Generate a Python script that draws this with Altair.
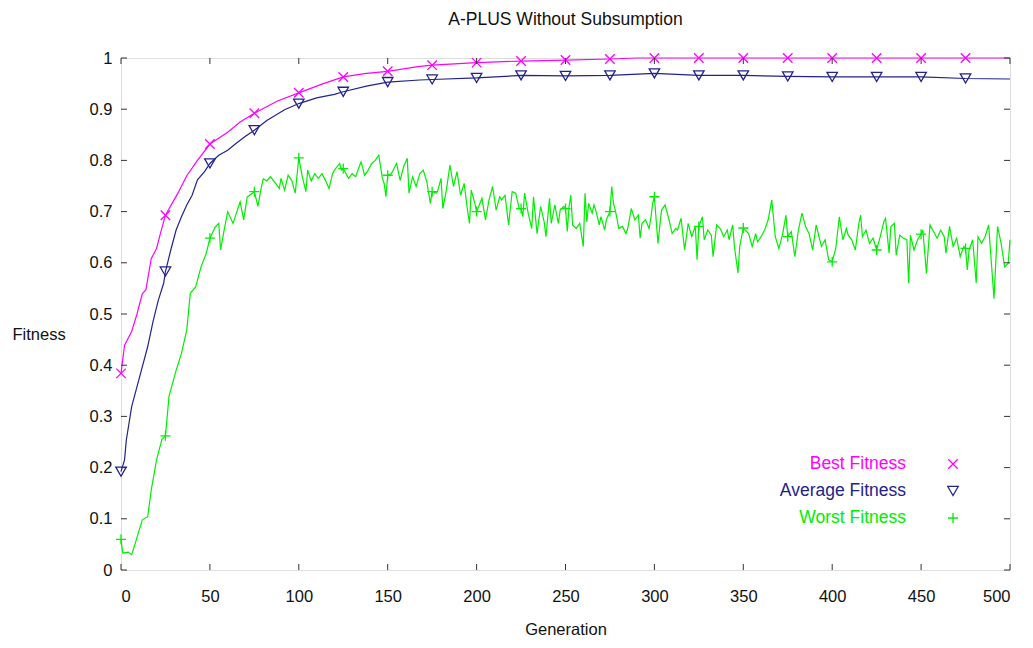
import altair as alt
import pandas as pd

# ---------------- data ----------------
best_gen = [0, 2, 6, 9, 12, 14, 17, 20, 22, 25, 32, 37, 43, 50, 60, 67, 75, 88, 100, 113, 125,
            138, 150, 167, 175, 200, 225, 250, 275, 290, 300, 325, 350, 375, 400, 425, 450, 475, 500]
best_val = [0.384, 0.439, 0.466, 0.500, 0.540, 0.547, 0.608, 0.628, 0.655, 0.693, 0.736, 0.770,
            0.800, 0.832, 0.855, 0.875, 0.892, 0.916, 0.932, 0.949, 0.963, 0.970, 0.974, 0.983,
            0.986, 0.991, 0.994, 0.996, 0.998, 1.0, 1.0, 1.0, 1.0, 1.0, 1.0, 1.0, 1.0, 1.0, 1.0]

avg_gen = [0, 2, 3, 6, 9, 11, 15, 18, 21, 24, 25, 28, 31, 34, 37, 40, 43, 47, 50, 55, 60, 65, 70,
           75, 82, 92, 100, 110, 120, 125, 138, 150, 168, 175, 200, 225, 250, 275, 300, 325, 350,
           375, 400, 425, 450, 475, 500]
avg_val = [0.192, 0.215, 0.254, 0.319, 0.358, 0.384, 0.436, 0.485, 0.527, 0.560, 0.583, 0.625,
           0.664, 0.690, 0.713, 0.732, 0.762, 0.778, 0.794, 0.810, 0.820, 0.834, 0.847, 0.859,
           0.878, 0.899, 0.911, 0.922, 0.929, 0.934, 0.945, 0.953, 0.957, 0.958, 0.961, 0.966,
           0.965, 0.966, 0.970, 0.966, 0.966, 0.964, 0.963, 0.963, 0.963, 0.960, 0.959]

worst_gen = [0, 1, 4, 6, 8, 12, 15, 17, 20, 23, 25, 27, 31, 34, 37, 39, 42, 45, 48, 50, 53, 55, 56,
             58, 60, 63, 67, 69, 71, 74, 75, 77, 79, 80, 82, 84, 87, 89, 90, 92, 94, 96, 98, 100,
             102, 104, 105, 107, 109, 111, 113, 115, 117, 119, 120, 123, 124, 125, 128, 130, 132,
             134, 135, 137, 139, 141, 143, 145, 147, 148, 149, 150, 152, 155, 157, 159, 161, 162,
             164, 166, 168, 170, 172, 174, 175, 177, 178, 180, 181, 183, 185, 187, 189, 191, 193,
             195, 196, 197, 199, 200, 203, 205, 207, 209, 211, 213, 214, 216, 218, 220, 222, 224,
             225, 226, 227, 229, 231, 232, 234, 236, 238, 239, 241, 242, 244, 246, 247, 249, 250,
             251, 252, 253, 254, 256, 258, 260, 261, 262, 263, 265, 266, 267, 269, 270, 272, 273,
             275, 276, 277, 278, 280, 282, 284, 285, 287, 289, 291, 292, 293, 295, 297, 298, 299,
             300, 302, 304, 306, 308, 310, 312, 313, 315, 317, 319, 321, 323, 324, 325, 327, 328,
             330, 332, 333, 335, 337, 339, 341, 342, 344, 345, 347, 348, 350, 351, 353, 355, 357,
             358, 360, 362, 364, 366, 368, 370, 372, 374, 375, 377, 379, 381, 383, 385, 387, 389,
             391, 393, 394, 396, 398, 400, 402, 404, 406, 408, 409, 411, 413, 415, 416, 417, 419,
             421, 423, 425, 427, 429, 430, 432, 433, 435, 436, 438, 440, 442, 443, 444, 446, 448,
             450, 451, 453, 455, 457, 459, 461, 463, 464, 466, 468, 470, 472, 474, 475, 476, 477,
             479, 481, 482, 484, 486, 488, 489, 491, 493, 495, 497, 499, 500]
worst_val = [0.060, 0.033, 0.035, 0.030, 0.052, 0.098, 0.104, 0.156, 0.215, 0.255, 0.262, 0.339,
             0.390, 0.423, 0.469, 0.541, 0.553, 0.592, 0.619, 0.648, 0.670, 0.677, 0.625, 0.664,
             0.700, 0.677, 0.719, 0.684, 0.729, 0.736, 0.739, 0.710, 0.749, 0.764, 0.760, 0.768,
             0.755, 0.745, 0.765, 0.742, 0.771, 0.761, 0.736, 0.805, 0.768, 0.739, 0.781, 0.760,
             0.774, 0.765, 0.774, 0.761, 0.745, 0.774, 0.781, 0.794, 0.781, 0.784, 0.765, 0.774,
             0.768, 0.788, 0.797, 0.771, 0.781, 0.794, 0.800, 0.810, 0.765, 0.755, 0.729, 0.771,
             0.774, 0.794, 0.761, 0.788, 0.804, 0.736, 0.768, 0.749, 0.774, 0.781, 0.758, 0.716,
             0.739, 0.736, 0.739, 0.765, 0.706, 0.742, 0.791, 0.749, 0.778, 0.732, 0.755, 0.700,
             0.677, 0.742, 0.716, 0.700, 0.726, 0.684, 0.723, 0.749, 0.703, 0.729, 0.723, 0.732,
             0.674, 0.739, 0.736, 0.706, 0.706, 0.690, 0.736, 0.697, 0.667, 0.729, 0.657, 0.710,
             0.680, 0.651, 0.726, 0.677, 0.713, 0.677, 0.703, 0.710, 0.706, 0.661, 0.710, 0.732,
             0.674, 0.667, 0.677, 0.632, 0.736, 0.680, 0.716, 0.697, 0.713, 0.703, 0.674, 0.690,
             0.664, 0.684, 0.700, 0.749, 0.716, 0.703, 0.667, 0.671, 0.657, 0.667, 0.706, 0.684,
             0.693, 0.648, 0.677, 0.684, 0.667, 0.687, 0.716, 0.729, 0.638, 0.703, 0.713, 0.687,
             0.657, 0.667, 0.664, 0.687, 0.625, 0.677, 0.651, 0.671, 0.606, 0.671, 0.690, 0.645,
             0.664, 0.654, 0.612, 0.674, 0.667, 0.651, 0.664, 0.645, 0.674, 0.632, 0.580, 0.632,
             0.668, 0.664, 0.657, 0.632, 0.657, 0.641, 0.651, 0.664, 0.684, 0.723, 0.651, 0.628,
             0.654, 0.693, 0.651, 0.661, 0.612, 0.664, 0.697, 0.671, 0.657, 0.625, 0.674, 0.645,
             0.632, 0.645, 0.606, 0.602, 0.628, 0.690, 0.645, 0.667, 0.654, 0.645, 0.625, 0.677,
             0.693, 0.651, 0.664, 0.638, 0.648, 0.625, 0.651, 0.680, 0.687, 0.619, 0.671, 0.677,
             0.615, 0.654, 0.648, 0.645, 0.560, 0.654, 0.625, 0.645, 0.656, 0.664, 0.579, 0.674,
             0.661, 0.648, 0.664, 0.651, 0.619, 0.671, 0.632, 0.648, 0.612, 0.632, 0.628, 0.586,
             0.625, 0.645, 0.560, 0.651, 0.638, 0.651, 0.674, 0.625, 0.530, 0.671, 0.638, 0.592,
             0.599, 0.645]

series_names = ["Best Fitness", "Average Fitness", "Worst Fitness"]
series_colors = ["#ff00ff", "#22228c", "#00ee00"]

x_ticks = [0, 50, 100, 150, 200, 250, 300, 350, 400, 450, 500]
y_ticks = [0, 0.1, 0.2, 0.3, 0.4, 0.5, 0.6, 0.7, 0.8, 0.9, 1.0]

# ---------------- chart ----------------
W, H = 889, 512
FONT = "Liberation Sans"

best_df = pd.DataFrame({"gen": best_gen, "val": best_val})
avg_df = pd.DataFrame({"gen": avg_gen, "val": avg_val})
worst_df = pd.DataFrame({"gen": worst_gen, "val": worst_val})

xs = alt.Scale(domain=[0, 500], nice=False, zero=False)
ys = alt.Scale(domain=[0, 1], nice=False, zero=False)

x_axis = alt.Axis(values=x_ticks, ticks=False, domain=False, grid=False, labelPadding=18,
                  labelFontSize=16.5, labelColor="#111", title="Generation", titleFontSize=16.5,
                  titleFontWeight="normal", titlePadding=17, titleColor="#111", labelFont=FONT,
                  titleFont=FONT)
y_axis = alt.Axis(values=y_ticks, ticks=False, domain=False, grid=False, labelPadding=9,
                  labelFontSize=16.5, labelColor="#111", format=".1~f", title="Fitness",
                  titleAngle=0, titleFontSize=16.5, titleFontWeight="normal", titleColor="#111",
                  titleX=-109, titleY=276, titleAlign="left", titleBaseline="middle",
                  labelFont=FONT, titleFont=FONT)

CROSS_X = "M-1,-1L1,1M-1,1L1,-1"
PLUS = "M-1,0L1,0M0,-1L0,1"


def series_layers(df, color, shape, size):
    base = alt.Chart(df)
    line = base.mark_line(color=color, strokeWidth=1.2).encode(
        x=alt.X("gen:Q", scale=xs, axis=x_axis),
        y=alt.Y("val:Q", scale=ys, axis=y_axis),
    )
    pts = base.transform_filter(
        "datum.gen % 25 == 0 && datum.gen < 500"
    ).mark_point(shape=shape, color=color, filled=False, size=size, strokeWidth=1.3, opacity=1).encode(
        x=alt.X("gen:Q", scale=xs, axis=x_axis),
        y=alt.Y("val:Q", scale=ys, axis=y_axis),
    )
    return [line, pts]


layers = []
layers += series_layers(best_df, series_colors[0], CROSS_X, 90)
layers += series_layers(avg_df, series_colors[1], "triangle-down", 110)
layers += series_layers(worst_df, series_colors[2], PLUS, 100)

# inward ticks on all four sides
xt = pd.DataFrame({"gen": x_ticks})
yt = pd.DataFrame({"val": y_ticks})
tick_color = "#333"
layers.append(alt.Chart(xt).mark_rule(color=tick_color).encode(
    x=alt.X("gen:Q", scale=xs, axis=x_axis), y=alt.value(H), y2=alt.value(H - 6)))
layers.append(alt.Chart(xt).mark_rule(color=tick_color).encode(
    x=alt.X("gen:Q", scale=xs, axis=x_axis), y=alt.value(0), y2=alt.value(6)))
layers.append(alt.Chart(yt).mark_rule(color=tick_color).encode(
    y=alt.Y("val:Q", scale=ys, axis=y_axis), x=alt.value(0), x2=alt.value(6)))
layers.append(alt.Chart(yt).mark_rule(color=tick_color).encode(
    y=alt.Y("val:Q", scale=ys, axis=y_axis), x=alt.value(W), x2=alt.value(W - 6)))

# legend (gnuplot style: text right-aligned, sample symbol to the right)
leg_y = [406, 433, 460]
leg_shapes = [CROSS_X, "triangle-down", PLUS]
leg_sizes = [90, 110, 100]
one = pd.DataFrame({"k": [0]})
for name, col, yy, shp, sz in zip(series_names, series_colors, leg_y, leg_shapes, leg_sizes):
    layers.append(alt.Chart(one).mark_text(
        text=name, color=col, font=FONT, fontSize=17.5, align="right", baseline="middle"
    ).encode(x=alt.value(785), y=alt.value(yy)))
    layers.append(alt.Chart(one).mark_point(
        shape=shp, color=col, filled=False, size=sz, strokeWidth=1.3, opacity=1
    ).encode(x=alt.value(832), y=alt.value(yy)))

chart = alt.layer(*layers).properties(
    width=W, height=H,
    title=alt.TitleParams("A-PLUS Without Subsumption", fontSize=17.5, fontWeight="normal",
                          font=FONT, color="#111", anchor="middle", offset=22),
    autosize=alt.AutoSizeParams(type="none"),
    padding={"left": 113, "top": 50, "right": 15, "bottom": 70},
).configure_view(stroke="#333", strokeWidth=1.2).configure(background="white")

chart.save("out.html", embed_options={"renderer": "svg", "actions": False})
